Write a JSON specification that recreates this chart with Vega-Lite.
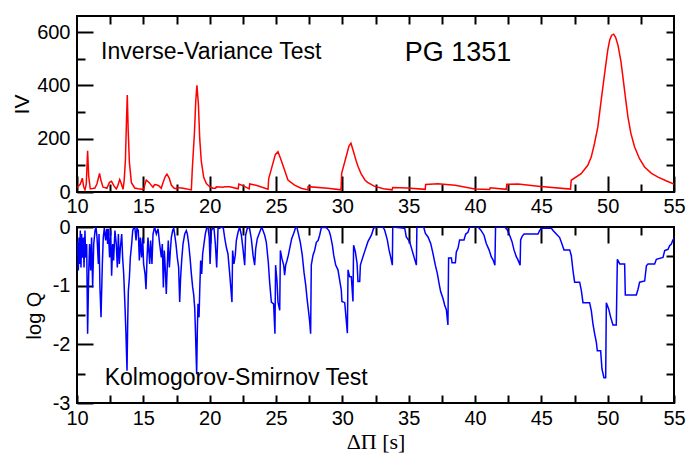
{
  "$schema": "https://vega.github.io/schema/vega-lite/v6.json",
  "padding": {"left": 10, "top": 14, "right": 2, "bottom": 2},
  "background": "white",
  "bounds": "flush",
  "spacing": 35,
  "config": {
    "view": {"stroke": "black", "strokeWidth": 2},
    "axis": {
      "grid": false, "labelFlush": false, "labelOverlap": false,
      "labelFont": "Liberation Sans", "labelFontSize": 20, "labelColor": "black",
      "titleFont": "Liberation Sans", "titleFontWeight": "normal", "titleColor": "black", "titleFontSize": 21
    }
  },
  "datasets": {
    "iv": [
      {"x":10.0,"iv":18},{"x":10.08,"iv":20},{"x":10.25,"iv":30},{"x":10.4,"iv":52},{"x":10.5,"iv":20},{"x":10.6,"iv":8},{"x":10.7,"iv":30},{"x":10.8,"iv":155},{"x":10.88,"iv":60},{"x":11.0,"iv":12},{"x":11.2,"iv":13},{"x":11.35,"iv":15},{"x":11.5,"iv":30},{"x":11.7,"iv":70},{"x":11.8,"iv":45},{"x":11.96,"iv":18},{"x":12.1,"iv":17},{"x":12.25,"iv":14},{"x":12.45,"iv":36},{"x":12.6,"iv":40},{"x":12.8,"iv":22},{"x":12.96,"iv":12},{"x":13.05,"iv":20},{"x":13.22,"iv":47},{"x":13.35,"iv":30},{"x":13.47,"iv":10},{"x":13.55,"iv":40},{"x":13.65,"iv":120},{"x":13.72,"iv":250},{"x":13.79,"iv":364},{"x":13.86,"iv":230},{"x":13.95,"iv":110},{"x":14.1,"iv":35},{"x":14.35,"iv":15},{"x":14.6,"iv":12},{"x":14.9,"iv":10},{"x":15.05,"iv":12},{"x":15.1,"iv":25},{"x":15.22,"iv":45},{"x":15.45,"iv":35},{"x":15.6,"iv":25},{"x":15.73,"iv":18},{"x":15.85,"iv":28},{"x":16.05,"iv":26},{"x":16.2,"iv":22},{"x":16.35,"iv":14},{"x":16.45,"iv":30},{"x":16.65,"iv":58},{"x":16.78,"iv":67},{"x":16.95,"iv":52},{"x":17.11,"iv":26},{"x":17.3,"iv":15},{"x":17.5,"iv":12},{"x":17.55,"iv":17},{"x":18.0,"iv":14},{"x":18.62,"iv":8},{"x":18.69,"iv":85},{"x":18.85,"iv":220},{"x":18.95,"iv":340},{"x":19.04,"iv":400},{"x":19.15,"iv":330},{"x":19.25,"iv":200},{"x":19.37,"iv":115},{"x":19.55,"iv":55},{"x":19.75,"iv":32},{"x":20.0,"iv":20},{"x":20.25,"iv":14},{"x":20.45,"iv":14},{"x":20.5,"iv":20},{"x":21.0,"iv":18},{"x":21.13,"iv":20},{"x":21.5,"iv":20},{"x":22.15,"iv":12},{"x":22.2,"iv":30},{"x":22.5,"iv":24},{"x":22.98,"iv":12},{"x":23.02,"iv":30},{"x":23.5,"iv":25},{"x":24.4,"iv":10},{"x":24.45,"iv":50},{"x":24.7,"iv":95},{"x":24.95,"iv":140},{"x":25.15,"iv":151},{"x":25.35,"iv":125},{"x":25.65,"iv":82},{"x":25.9,"iv":45},{"x":26.4,"iv":26},{"x":26.9,"iv":14},{"x":27.4,"iv":8},{"x":27.42,"iv":20},{"x":28.9,"iv":14},{"x":29.9,"iv":8},{"x":29.95,"iv":70},{"x":30.3,"iv":135},{"x":30.5,"iv":172},{"x":30.65,"iv":183},{"x":30.85,"iv":150},{"x":31.05,"iv":115},{"x":31.2,"iv":94},{"x":31.4,"iv":70},{"x":31.7,"iv":45},{"x":31.9,"iv":36},{"x":32.4,"iv":22},{"x":33.1,"iv":12},{"x":33.75,"iv":8},{"x":33.8,"iv":17},{"x":34.9,"iv":15},{"x":36.25,"iv":10},{"x":36.28,"iv":28},{"x":37.2,"iv":31},{"x":38.5,"iv":25},{"x":40.0,"iv":11},{"x":41.1,"iv":9},{"x":41.15,"iv":16},{"x":42.35,"iv":10},{"x":42.4,"iv":29},{"x":43.25,"iv":30},{"x":44.75,"iv":22},{"x":47.2,"iv":11},{"x":47.25,"iv":44},{"x":48.0,"iv":69},{"x":48.5,"iv":100},{"x":48.76,"iv":131},{"x":49.0,"iv":180},{"x":49.26,"iv":244},{"x":49.5,"iv":340},{"x":49.77,"iv":444},{"x":50.0,"iv":530},{"x":50.15,"iv":569},{"x":50.3,"iv":588},{"x":50.45,"iv":592},{"x":50.6,"iv":580},{"x":50.78,"iv":550},{"x":51.0,"iv":490},{"x":51.15,"iv":431},{"x":51.35,"iv":350},{"x":51.53,"iv":281},{"x":51.75,"iv":220},{"x":52.03,"iv":169},{"x":52.4,"iv":125},{"x":52.78,"iv":94},{"x":53.3,"iv":70},{"x":53.8,"iv":56},{"x":54.4,"iv":42},{"x":55.0,"iv":30}
    ],
    "ks": [
      {"x":10.0,"q":-0.25},{"x":10.05,"q":-0.29},{"x":10.1,"q":-0.74},{"x":10.15,"q":-0.18},{"x":10.2,"q":-0.63},{"x":10.25,"q":-0.06},{"x":10.3,"q":-0.69},{"x":10.35,"q":-0.12},{"x":10.4,"q":-0.52},{"x":10.48,"q":-0.18},{"x":10.53,"q":-0.69},{"x":10.6,"q":-0.06},{"x":10.65,"q":-0.52},{"x":10.73,"q":-0.29},{"x":10.8,"q":-1.82},{"x":10.88,"q":-0.8},{"x":10.95,"q":-0.29},{"x":11.03,"q":-0.74},{"x":11.1,"q":-0.18},{"x":11.18,"q":-1.03},{"x":11.26,"q":-0.29},{"x":11.36,"q":-0.06},{"x":11.43,"q":0},{"x":11.51,"q":-0.18},{"x":11.61,"q":-0.63},{"x":11.66,"q":-0.12},{"x":11.73,"q":-1.03},{"x":11.81,"q":-1.54},{"x":11.91,"q":-0.63},{"x":11.98,"q":-0.18},{"x":12.06,"q":-0.02},{"x":12.16,"q":-0.23},{"x":12.24,"q":-0.03},{"x":12.31,"q":-0.29},{"x":12.36,"q":-0.03},{"x":12.46,"q":-0.52},{"x":12.54,"q":-0.06},{"x":12.61,"q":-0.83},{"x":12.69,"q":-0.29},{"x":12.76,"q":-0.57},{"x":12.86,"q":-0.06},{"x":12.96,"q":-0.29},{"x":13.04,"q":-0.69},{"x":13.12,"q":-0.12},{"x":13.19,"q":-0.63},{"x":13.27,"q":-0.35},{"x":13.37,"q":-0.12},{"x":13.44,"q":-0.52},{"x":13.52,"q":-0.8},{"x":13.62,"q":-1.37},{"x":13.69,"q":-1.82},{"x":13.77,"q":-2.45},{"x":13.82,"q":-1.65},{"x":13.87,"q":-1.09},{"x":13.95,"q":-0.86},{"x":14.02,"q":-0.52},{"x":14.12,"q":-0.29},{"x":14.2,"q":-0.06},{"x":14.27,"q":-0.02},{"x":14.37,"q":-0.03},{"x":14.45,"q":-0.23},{"x":14.52,"q":-0.02},{"x":14.62,"q":-0.06},{"x":14.7,"q":-0.57},{"x":14.77,"q":-0.18},{"x":14.87,"q":-0.52},{"x":14.95,"q":-0.18},{"x":15.02,"q":-0.63},{"x":15.13,"q":-0.8},{"x":15.2,"q":-1.06},{"x":15.28,"q":-0.52},{"x":15.35,"q":-0.18},{"x":15.48,"q":-0.63},{"x":15.55,"q":-0.23},{"x":15.65,"q":-0.63},{"x":15.73,"q":-0.12},{"x":15.85,"q":0},{"x":15.98,"q":-0.12},{"x":16.11,"q":-0.03},{"x":16.23,"q":-0.29},{"x":16.36,"q":-0.52},{"x":16.43,"q":-0.29},{"x":16.51,"q":-1.03},{"x":16.58,"q":-0.4},{"x":16.66,"q":-0.74},{"x":16.73,"q":-1.14},{"x":16.81,"q":-0.63},{"x":16.88,"q":-0.23},{"x":16.96,"q":-0.69},{"x":17.04,"q":-0.4},{"x":17.11,"q":-0.18},{"x":17.21,"q":-0.06},{"x":17.29,"q":-0.02},{"x":17.36,"q":-0.12},{"x":17.46,"q":-0.29},{"x":17.56,"q":-0.52},{"x":17.66,"q":-0.69},{"x":17.74,"q":-1.28},{"x":17.81,"q":-0.86},{"x":17.89,"q":-0.57},{"x":17.99,"q":-0.29},{"x":18.12,"q":-0.12},{"x":18.24,"q":-0.06},{"x":18.32,"q":-0.12},{"x":18.42,"q":-0.29},{"x":18.52,"q":-0.52},{"x":18.62,"q":-0.8},{"x":18.72,"q":-1.03},{"x":18.79,"q":-1.14},{"x":18.87,"q":-1.37},{"x":18.92,"q":-1.71},{"x":18.97,"q":-2.11},{"x":19.02,"q":-2.51},{"x":19.07,"q":-1.77},{"x":19.12,"q":-1.31},{"x":19.2,"q":-1.54},{"x":19.25,"q":-1.09},{"x":19.32,"q":-0.57},{"x":19.4,"q":-0.8},{"x":19.47,"q":-0.46},{"x":19.57,"q":-0.29},{"x":19.67,"q":-0.12},{"x":19.77,"q":-0.02},{"x":19.87,"q":0},{"x":19.97,"q":-0.18},{"x":20.03,"q":-0.63},{"x":20.13,"q":-0.06},{"x":20.23,"q":-0.02},{"x":20.33,"q":-0.03},{"x":20.43,"q":-0.29},{"x":20.53,"q":-0.69},{"x":20.63,"q":-0.02},{"x":20.75,"q":-0.02},{"x":20.88,"q":0},{"x":21.03,"q":-0.02},{"x":21.13,"q":-0.18},{"x":21.26,"q":-0.35},{"x":21.38,"q":-0.46},{"x":21.51,"q":-0.8},{"x":21.68,"q":-1.28},{"x":21.73,"q":-0.4},{"x":21.83,"q":-0.63},{"x":21.93,"q":-0.48},{"x":22.01,"q":-0.23},{"x":22.14,"q":-0.09},{"x":22.26,"q":0},{"x":22.39,"q":-0.14},{"x":22.51,"q":-0.37},{"x":22.64,"q":-0.65},{"x":22.71,"q":-0.14},{"x":22.86,"q":0},{"x":23.01,"q":-0.03},{"x":23.14,"q":-0.2},{"x":23.27,"q":-0.48},{"x":23.39,"q":-0.65},{"x":23.47,"q":-0.37},{"x":23.59,"q":-0.2},{"x":23.77,"q":-0.09},{"x":23.92,"q":0},{"x":24.02,"q":-0.06},{"x":24.15,"q":-0.14},{"x":24.27,"q":-0.26},{"x":24.42,"q":-0.6},{"x":24.52,"q":-0.94},{"x":24.65,"q":-1.28},{"x":24.82,"q":-1.31},{"x":24.92,"q":-1.82},{"x":24.97,"q":-0.65},{"x":25.08,"q":-0.94},{"x":25.15,"q":-1.28},{"x":25.28,"q":-1.42},{"x":25.33,"q":-0.4},{"x":25.45,"q":-0.54},{"x":25.58,"q":-0.65},{"x":25.65,"q":-0.82},{"x":25.73,"q":-0.65},{"x":25.83,"q":-0.57},{"x":25.93,"q":-0.48},{"x":26.03,"q":-0.37},{"x":26.18,"q":-0.2},{"x":26.33,"q":-0.11},{"x":26.48,"q":-0.01},{"x":26.58,"q":-0.01},{"x":26.68,"q":-0.11},{"x":26.83,"q":-0.26},{"x":26.98,"q":-0.48},{"x":27.11,"q":-0.77},{"x":27.24,"q":-0.99},{"x":27.34,"q":-1.22},{"x":27.46,"q":-1.45},{"x":27.54,"q":-1.62},{"x":27.61,"q":-1.82},{"x":27.66,"q":-0.65},{"x":27.79,"q":-0.48},{"x":27.91,"q":-0.4},{"x":28.04,"q":-0.26},{"x":28.17,"q":-0.23},{"x":28.29,"q":-0.14},{"x":28.42,"q":-0.01},{"x":28.54,"q":-0.01},{"x":28.79,"q":-0.01},{"x":28.99,"q":-0.06},{"x":29.1,"q":-0.14},{"x":29.25,"q":-0.31},{"x":29.35,"q":-0.48},{"x":29.5,"q":-0.65},{"x":29.67,"q":-0.73},{"x":29.92,"q":-1.07},{"x":29.97,"q":-1.27},{"x":30.18,"q":-1.29},{"x":30.38,"q":-1.81},{"x":30.43,"q":-0.73},{"x":30.55,"q":-0.85},{"x":30.68,"q":-0.85},{"x":30.8,"q":-1.27},{"x":30.85,"q":-0.31},{"x":30.98,"q":-0.42},{"x":31.11,"q":-0.62},{"x":31.18,"q":-0.93},{"x":31.31,"q":-0.93},{"x":31.36,"q":-0.65},{"x":31.48,"q":-0.56},{"x":31.68,"q":-0.42},{"x":31.93,"q":-0.25},{"x":32.19,"q":-0.14},{"x":32.36,"q":-0.02},{"x":32.56,"q":0},{"x":33.06,"q":0},{"x":33.19,"q":-0.05},{"x":33.39,"q":-0.22},{"x":33.52,"q":-0.39},{"x":33.64,"q":-0.51},{"x":33.77,"q":-0.65},{"x":33.8,"q":0},{"x":34.7,"q":-0.02},{"x":34.82,"q":-0.17},{"x":35.07,"q":-0.25},{"x":35.25,"q":-0.39},{"x":35.4,"q":-0.51},{"x":35.58,"q":-0.65},{"x":35.62,"q":0},{"x":36.13,"q":0},{"x":36.26,"q":-0.11},{"x":36.46,"q":-0.17},{"x":36.66,"q":-0.28},{"x":36.83,"q":-0.45},{"x":37.01,"q":-0.65},{"x":37.16,"q":-0.79},{"x":37.29,"q":-0.96},{"x":37.41,"q":-1.1},{"x":37.59,"q":-1.22},{"x":37.71,"q":-1.33},{"x":37.84,"q":-1.41},{"x":37.96,"q":-1.67},{"x":38.01,"q":-0.53},{"x":38.22,"q":-0.53},{"x":38.27,"q":-0.61},{"x":38.52,"q":-0.61},{"x":38.59,"q":-0.43},{"x":38.72,"q":-0.36},{"x":38.84,"q":-0.22},{"x":39.17,"q":-0.22},{"x":39.3,"q":-0.12},{"x":39.47,"q":-0.09},{"x":39.6,"q":0},{"x":40.23,"q":0},{"x":40.43,"q":-0.05},{"x":40.68,"q":-0.14},{"x":40.85,"q":-0.28},{"x":41.06,"q":-0.39},{"x":41.23,"q":-0.51},{"x":41.36,"q":-0.56},{"x":41.5,"q":-0.65},{"x":41.55,"q":0},{"x":42.24,"q":0},{"x":42.44,"q":-0.05},{"x":42.61,"q":-0.14},{"x":42.79,"q":-0.25},{"x":42.94,"q":-0.39},{"x":43.12,"q":-0.51},{"x":43.24,"q":-0.56},{"x":43.4,"q":-0.65},{"x":43.44,"q":-0.22},{"x":43.55,"q":-0.16},{"x":43.7,"q":-0.12},{"x":44.75,"q":-0.12},{"x":44.87,"q":-0.06},{"x":45.0,"q":-0.02},{"x":45.75,"q":-0.02},{"x":45.88,"q":-0.06},{"x":46.13,"q":-0.12},{"x":46.38,"q":-0.18},{"x":46.51,"q":-0.26},{"x":46.63,"q":-0.34},{"x":46.71,"q":-0.39},{"x":47.14,"q":-0.39},{"x":47.26,"q":-0.49},{"x":47.39,"q":-0.75},{"x":47.51,"q":-0.94},{"x":47.89,"q":-0.94},{"x":48.02,"q":-1.09},{"x":48.14,"q":-1.29},{"x":48.64,"q":-1.29},{"x":48.77,"q":-1.43},{"x":48.89,"q":-1.65},{"x":49.02,"q":-1.82},{"x":49.15,"q":-1.97},{"x":49.22,"q":-2.11},{"x":49.47,"q":-2.11},{"x":49.57,"q":-2.42},{"x":49.72,"q":-2.57},{"x":49.85,"q":-2.57},{"x":49.9,"q":-1.29},{"x":50.08,"q":-1.4},{"x":50.23,"q":-1.54},{"x":50.4,"q":-1.67},{"x":50.65,"q":-1.67},{"x":50.73,"q":-0.55},{"x":50.91,"q":-0.63},{"x":51.28,"q":-0.63},{"x":51.33,"q":-1.16},{"x":52.16,"q":-1.16},{"x":52.29,"q":-1.06},{"x":52.41,"q":-0.94},{"x":52.79,"q":-0.92},{"x":52.92,"q":-0.66},{"x":53.04,"q":-0.63},{"x":53.54,"q":-0.63},{"x":53.67,"q":-0.55},{"x":54.17,"q":-0.52},{"x":54.3,"q":-0.4},{"x":54.55,"q":-0.38},{"x":54.67,"q":-0.32},{"x":54.8,"q":-0.29},{"x":54.92,"q":-0.22},{"x":55.0,"q":-0.2}
    ],
    "noteIV": [{"label": "Inverse-Variance Test", "x": 11.81, "iv": 499}],
    "notePG": [{"label": "PG 1351", "x": 34.7, "iv": 491}],
    "noteKS": [{"label": "Kolmogorov-Smirnov Test", "x": 12.09, "q": -2.69}]
  },
  "vconcat": [
    {
      "width": 597,
      "height": 176,
      "layer": [
        {
          "data": {"name": "iv"},
          "mark": {"type": "line", "color": "#ff0000", "strokeWidth": 1.5, "clip": true},
          "encoding": {
            "x": {"field": "x", "type": "quantitative", "scale": {"domain": [10, 55], "nice": false, "zero": false},
                  "axis": {"orient": "bottom", "values": [10,15,20,25,30,35,40,45,50,55], "domain": false, "ticks": true, "tickColor": "black", "tickWidth": 2, "offset": -16, "tickSize": 16, "labelPadding": 4, "title": null}},
            "y": {"field": "iv", "type": "quantitative", "scale": {"domain": [0, 660], "nice": false},
                  "axis": {"orient": "left", "values": [0,200,400,600], "domain": false, "ticks": true, "tickColor": "black", "tickWidth": 2, "offset": -16, "tickSize": 16, "labelPadding": 7, "title": "IV", "titlePadding": 4}}
          }
        },
        {
          "data": {"name": "noteIV"},
          "mark": {"type": "text", "font": "Liberation Sans", "fontSize": 23, "align": "left", "baseline": "alphabetic", "color": "black"},
          "encoding": {
            "text": {"field": "label"},
            "x": {"field": "x", "type": "quantitative",
                  "axis": {"orient": "bottom", "values": [12.5,17.5,22.5,27.5,32.5,37.5,42.5,47.5,52.5], "domain": false, "ticks": true, "tickColor": "black", "tickWidth": 2, "offset": -8, "tickSize": 8, "labels": false, "title": null}},
            "y": {"field": "iv", "type": "quantitative",
                  "axis": {"orient": "left", "values": [100,300,500], "domain": false, "ticks": true, "tickColor": "black", "tickWidth": 2, "offset": -8, "tickSize": 8, "labels": false, "title": null}}
          }
        },
        {
          "data": {"name": "notePG"},
          "mark": {"type": "text", "font": "Liberation Sans", "fontSize": 27, "align": "left", "baseline": "alphabetic", "color": "black"},
          "encoding": {
            "text": {"field": "label"},
            "x": {"field": "x", "type": "quantitative",
                  "axis": {"orient": "top", "values": [12.5,15,17.5,20,22.5,25,27.5,30,32.5,35,37.5,40,42.5,45,47.5,50,52.5], "domain": false, "ticks": true, "tickColor": "black", "tickWidth": 2, "offset": -8, "tickSize": 8, "labels": false, "title": null}},
            "y": {"field": "iv", "type": "quantitative",
                  "axis": {"orient": "right", "values": [100,200,300,400,500,600], "domain": false, "ticks": true, "tickColor": "black", "tickWidth": 2, "offset": -8, "tickSize": 8, "labels": false, "title": null}}
          }
        }
      ],
      "resolve": {"axis": {"x": "independent", "y": "independent"}}
    },
    {
      "width": 597,
      "height": 176,
      "layer": [
        {
          "data": {"name": "ks"},
          "mark": {"type": "line", "color": "#0000ff", "strokeWidth": 1.5, "clip": true},
          "encoding": {
            "x": {"field": "x", "type": "quantitative", "scale": {"domain": [10, 55], "nice": false, "zero": false},
                  "axis": {"orient": "bottom", "values": [10,12.5,15,17.5,20,22.5,25,27.5,30,32.5,35,37.5,40,42.5,45,47.5,50,52.5,55], "domain": false, "ticks": true, "tickColor": "black", "tickWidth": 2, "offset": -8, "tickSize": 8, "labelPadding": 5,
                           "labelExpr": "datum.value % 5 === 0 ? datum.label : ''",
                           "title": "ΔΠ [s]", "titleFont": "Liberation Serif", "titleFontSize": 22, "titlePadding": 3}},
            "y": {"field": "q", "type": "quantitative", "scale": {"domain": [-3, 0], "nice": false, "zero": false},
                  "axis": {"orient": "left", "values": [0,-1,-2,-3], "domain": false, "ticks": true, "tickColor": "black", "tickWidth": 2, "offset": -16, "tickSize": 16, "labelPadding": 7, "labelExpr": "'' + datum.value", "title": "log Q", "titleFontSize": 20, "titlePadding": 8}}
          }
        },
        {
          "data": {"name": "noteKS"},
          "mark": {"type": "text", "font": "Liberation Sans", "fontSize": 23, "align": "left", "baseline": "alphabetic", "color": "black"},
          "encoding": {
            "text": {"field": "label"},
            "x": {"field": "x", "type": "quantitative",
                  "axis": {"orient": "top", "values": [15,20,25,30,35,40,45,50], "domain": false, "ticks": true, "tickColor": "black", "tickWidth": 2, "offset": -16, "tickSize": 16, "labels": false, "title": null}},
            "y": {"field": "q", "type": "quantitative",
                  "axis": {"orient": "left", "values": [-0.5,-1.5,-2.5], "domain": false, "ticks": true, "tickColor": "black", "tickWidth": 2, "offset": -8, "tickSize": 8, "labels": false, "title": null}}
          }
        },
        {
          "data": {"name": "ks"},
          "mark": {"type": "line", "color": "#0000ff", "strokeWidth": 1.5, "opacity": 0, "clip": true},
          "encoding": {
            "x": {"field": "x", "type": "quantitative",
                  "axis": {"orient": "top", "values": [12.5,17.5,22.5,27.5,32.5,37.5,42.5,47.5,52.5], "domain": false, "ticks": true, "tickColor": "black", "tickWidth": 2, "offset": -8, "tickSize": 8, "labels": false, "title": null}},
            "y": {"field": "q", "type": "quantitative",
                  "axis": {"orient": "right", "values": [-0.5,-1,-1.5,-2,-2.5], "domain": false, "ticks": true, "tickColor": "black", "tickWidth": 2, "offset": -8, "tickSize": 8, "labels": false, "title": null}}
          }
        }
      ],
      "resolve": {"axis": {"x": "independent", "y": "independent"}}
    }
  ]
}
